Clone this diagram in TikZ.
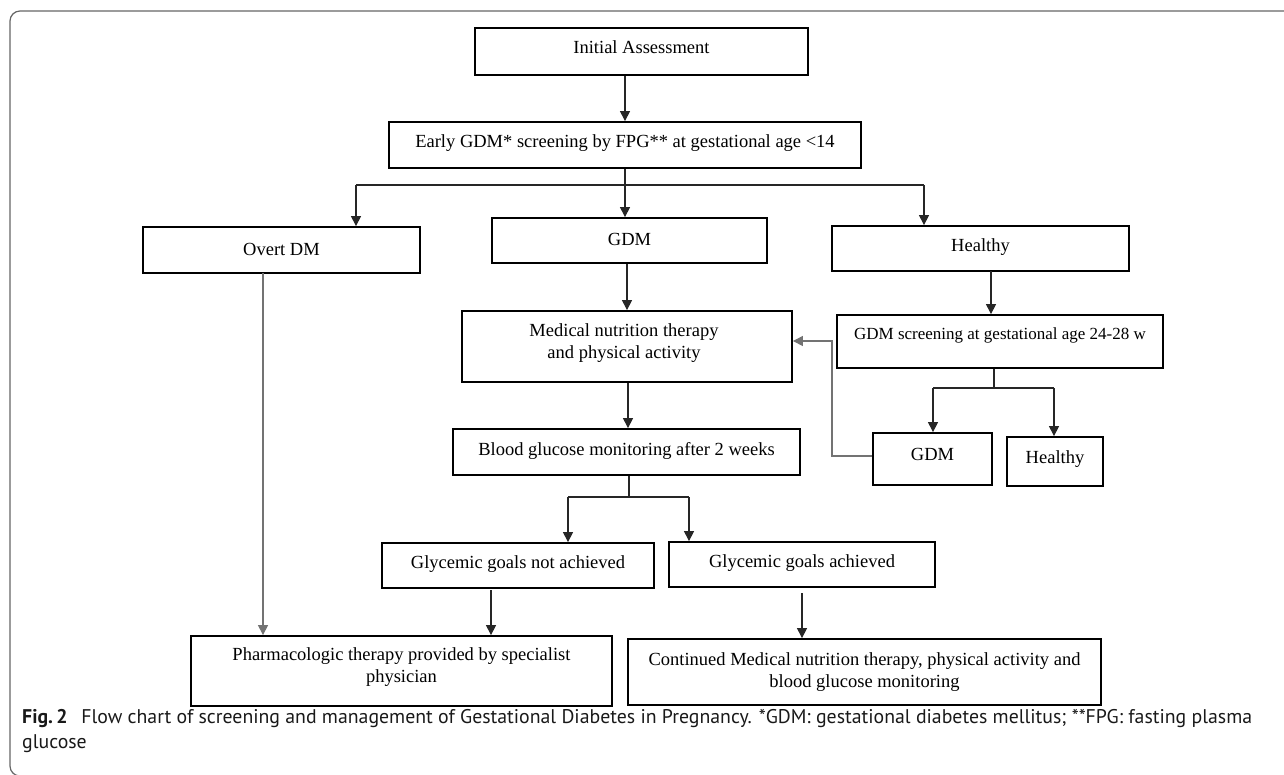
\documentclass[tikz,border=0pt]{standalone}
\usepackage{fontspec}
\setmainfont{Liberation Serif}
\newfontfamily\capfont{PT Sans}
\usetikzlibrary{arrows.meta,calc}
\newcommand\bx[5]{\node[box,minimum width={#4-#2},minimum height={#5-#3}] (#1) at ({(#2+#4)/2},{(#3+#5)/2}) {};}
\begin{document}
\begin{tikzpicture}[x=1pt,y=-1pt,
  box/.style={draw=black,line width=1.8pt,inner sep=0pt},
  txt/.style={font=\fontsize{18.5}{21.5}\selectfont,align=center,inner sep=0pt},
  conn/.style={draw=black!85,line width=1.1pt},
  gconn/.style={draw=black!55,line width=1.1pt},
  arr/.style={-{Triangle[length=10pt,width=10pt]}},
  captxt/.style={anchor=base west,inner sep=0pt,font=\capfont\fontsize{19.8}{25}\selectfont,text=black!90},
]
\useasboundingbox (0,0) rectangle (1284,774);
\begin{scope}
\clip (0,0) rectangle (1284,774);
\draw[black!60,line width=1.2pt,rounded corners=10pt] (10,11) rectangle (1300,776);
\end{scope}

% boxes
\bx{ia}{475}{28}{808}{75}
\bx{early}{389}{122}{861}{168}
\bx{overt}{143}{227}{420}{273}
\bx{gdm}{492}{218}{767}{263}
\bx{healthy}{832}{226}{1129}{271}
\bx{screen}{837}{315}{1163}{368}
\bx{med}{462}{311}{792}{382}
\bx{blood}{453}{429}{800}{475}
\bx{gdmb}{873}{433}{992}{485}
\bx{healthyb}{1007}{437}{1103}{486}
\bx{notach}{382}{543}{654}{588}
\bx{ach}{669}{542}{935}{587}
\bx{pharm}{191}{636}{612}{706}
\bx{cont}{628}{639}{1101}{705}

% texts
\node[txt] (ia-t) at (641.5,47) {Initial Assessment};
\node[txt] (early-t) at (625,143) {Early GDM* screening by FPG** at gestational age <14};
\node[txt] (overt-t) at (281.5,249) {Overt DM};
\node[txt] (gdm-t) at (629.5,239) {GDM};
\node[txt] (healthy-t) at (980.5,247) {Healthy};
\node[txt,font=\fontsize{17}{20}\selectfont] (screen-t) at (1000,335) {GDM screening at gestational age 24-28 w};
\node[txt] (med-t) at (624,343) {Medical nutrition therapy\\and physical activity};
\node[txt] (blood-t) at (626.5,451) {Blood glucose monitoring after 2 weeks};
\node[txt] (gdmb-t) at (932.5,454) {GDM};
\node[txt] (healthyb-t) at (1055,459) {Healthy};
\node[txt] (notach-t) at (518,564) {Glycemic goals not achieved};
\node[txt] (ach-t) at (802,563) {Glycemic goals achieved};
\node[txt] (pharm-t) at (401.5,667) {Pharmacologic therapy provided by specialist\\physician};
\node[txt] (cont-t) at (864.5,672) {Continued Medical nutrition therapy, physical activity and\\blood glucose monitoring};

% branch coordinates
\coordinate (b0) at (625,185);
\coordinate (bl) at (356,185);
\coordinate (br) at (924,185);
\coordinate (h1) at (991,271);
\coordinate (s0) at (994,388);
\coordinate (sl) at (933,388);
\coordinate (sr) at (1054,388);
\coordinate (fb) at (832,456);
\coordinate (bg0) at (629,497);
\coordinate (bgl) at (568,497);
\coordinate (bgr) at (689,497);
\coordinate (ov) at (263,273);
\coordinate (na) at (491,590);
\coordinate (ac) at (802,593);

% connectors
\draw[conn,arr] (ia.south -| early.north) -- (early.north);
\draw[conn] (early.south) -- (b0);
\draw[conn] (bl) -- (br);
\draw[conn,arr] (bl) -- (bl |- overt.north);
\draw[conn,arr] (b0) -- (b0 |- gdm.north);
\draw[conn,arr] (br) -- (br |- healthy.north);
\draw[conn,arr] (gdm.south -| med.north) -- (med.north);
\draw[conn,arr] (h1) -- (h1 |- screen.north);
\draw[conn,line width=2pt] (screen.south -| s0) -- (s0);
\draw[conn] (sl) -- (sr);
\draw[conn,arr] (sl) -- (sl |- gdmb.north);
\draw[conn,arr] (sr) -- (sr |- healthyb.north);
\draw[gconn,arr] (gdmb.west |- fb) -- (fb) -- (fb |- 0,341) -- (med.east |- 0,341);
\draw[conn,arr] (med.south -| 628,0) -- (628,0 |- blood.north);
\draw[conn] (blood.south -| bg0) -- (bg0);
\draw[conn] (bgl) -- (bgr);
\draw[conn,arr] (bgl) -- (bgl |- notach.north);
\draw[conn,arr] (bgr) -- (bgr |- ach.north);
\draw[gconn,arr] (ov) -- (ov |- pharm.north);
\draw[conn,arr] (na) -- (na |- pharm.north);
\draw[conn,arr] (ac) -- (ac |- cont.north);

% caption
\node[captxt] (cap1) at (22,723) {\textbf{Fig.\,2}\hspace{0.7em}Flow chart of screening and management of Gestational Diabetes in Pregnancy. *GDM: gestational diabetes mellitus; **FPG: fasting plasma};
\node[captxt] (cap2) at (22,748) {glucose};
\end{tikzpicture}
\end{document}
